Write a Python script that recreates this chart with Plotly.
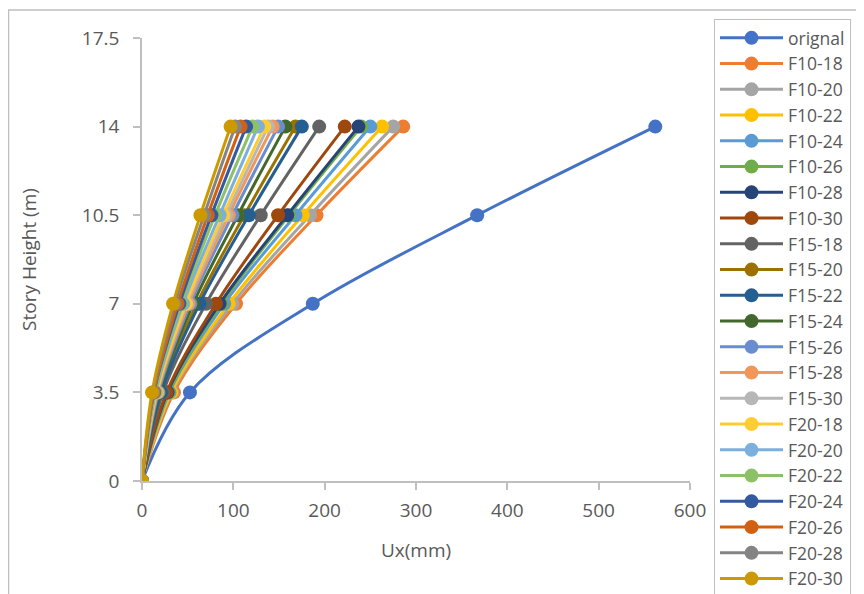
import plotly.graph_objects as go

story_height = [0, 3.5, 7, 10.5, 14]

series_names = ["orignal", "F10-18", "F10-20", "F10-22", "F10-24", "F10-26", "F10-28", "F10-30",
                "F15-18", "F15-20", "F15-22", "F15-24", "F15-26", "F15-28", "F15-30",
                "F20-18", "F20-20", "F20-22", "F20-24", "F20-26", "F20-28", "F20-30"]

orignal = [0, 52.5, 187, 367, 562]
F10_18 = [0, 35, 103, 191, 286]
F10_20 = [0, 33, 99, 184, 275]
F10_22 = [0, 32, 95, 176, 263]
F10_24 = [0, 30, 90, 168, 250]
F10_26 = [0, 29, 87, 161, 240]
F10_28 = [0, 28, 85, 159, 237]
F10_30 = [0, 27, 81, 149, 222]
F15_18 = [0, 23, 70, 130, 194]
F15_20 = [0, 20, 60, 112, 168]
F15_22 = [0, 21, 63, 117, 175]
F15_24 = [0, 19, 56, 105, 157]
F15_26 = [0, 18, 53, 99, 149]
F15_28 = [0, 17, 51, 95, 143]
F15_30 = [0, 16, 49, 92, 138]
F20_18 = [0, 16, 48, 89, 134]
F20_20 = [0, 15, 45, 85, 127]
F20_22 = [0, 14, 43, 80, 121]
F20_24 = [0, 13, 41, 76, 114]
F20_26 = [0, 13, 39, 72, 108]
F20_28 = [0, 12, 36, 68, 102]
F20_30 = [0, 11, 34, 64, 97]

series_values = [orignal, F10_18, F10_20, F10_22, F10_24, F10_26, F10_28, F10_30,
                 F15_18, F15_20, F15_22, F15_24, F15_26, F15_28, F15_30,
                 F20_18, F20_20, F20_22, F20_24, F20_26, F20_28, F20_30]

colors = ["#4472C4", "#ED7D31", "#A5A5A5", "#FFC000", "#5B9BD5", "#70AD47", "#264478", "#9E480E",
          "#636363", "#997300", "#255E91", "#43682B", "#698ED0", "#F1975A", "#B7B7B7",
          "#FFCD33", "#7CAFDD", "#8CC168", "#335AA1", "#D26012", "#848484", "#CC9A00"]

x_ticks = [0, 100, 200, 300, 400, 500, 600]
y_ticks = [0, 3.5, 7, 10.5, 14, 17.5]
y_tick_labels = ["0", "3.5", "7", "10.5", "14", "17.5"]

FONT = "Open Sans"
TXT = "#595959"

fig = go.Figure()
for name, vals, c in zip(series_names, series_values, colors):
    fig.add_trace(go.Scatter(
        x=vals, y=story_height, name=name, mode="lines+markers",
        line=dict(color=c, width=3, shape="spline", smoothing=1),
        marker=dict(color=c, size=14),
    ))

fig.update_layout(
    width=856, height=586,
    margin=dict(l=134, r=174, t=30, b=113, autoexpand=False),
    paper_bgcolor="white", plot_bgcolor="white",
    font=dict(family=FONT, color=TXT, size=18),
    showlegend=True,
    legend=dict(
        x=1.0438, y=1.043, xanchor="left", yanchor="top",
        bgcolor="white", bordercolor="#BFBFBF", borderwidth=1,
        font=dict(family=FONT, size=17.5, color=TXT),
        tracegroupgap=0, maxheight=700, itemwidth=63,
    ),
    xaxis=dict(
        range=[0, 600], tickvals=x_ticks, ticktext=[str(v) for v in x_ticks],
        showgrid=False, zeroline=False, showline=True, linecolor="#BFBFBF", linewidth=1.5,
        ticks="outside", ticklen=7, tickcolor="#BFBFBF", tickwidth=1.5,
        tickfont=dict(family=FONT, size=19, color=TXT),
        ticklabelstandoff=4, automargin=False,
        title=dict(text="Ux(mm)", font=dict(family=FONT, size=19, color=TXT), standoff=22),
    ),
    yaxis=dict(
        range=[0, 17.5], tickvals=y_ticks, ticktext=y_tick_labels,
        showgrid=False, zeroline=False, showline=True, linecolor="#BFBFBF", linewidth=1.5,
        ticks="outside", ticklen=7, tickcolor="#BFBFBF", tickwidth=1.5,
        tickfont=dict(family=FONT, size=19, color=TXT),
        ticklabelstandoff=10, automargin=False,
        title=dict(text="Story Height (m)", font=dict(family=FONT, size=19, color=TXT), standoff=40),
    ),
    shapes=[dict(type="rect", xref="paper", yref="paper",
                 x0=-0.2436, x1=1.5, y0=-0.6, y1=1.0632,
                 line=dict(color="#BFBFBF", width=1.5), fillcolor="rgba(0,0,0,0)", layer="below")],
)

fig.write_html("out.html")
